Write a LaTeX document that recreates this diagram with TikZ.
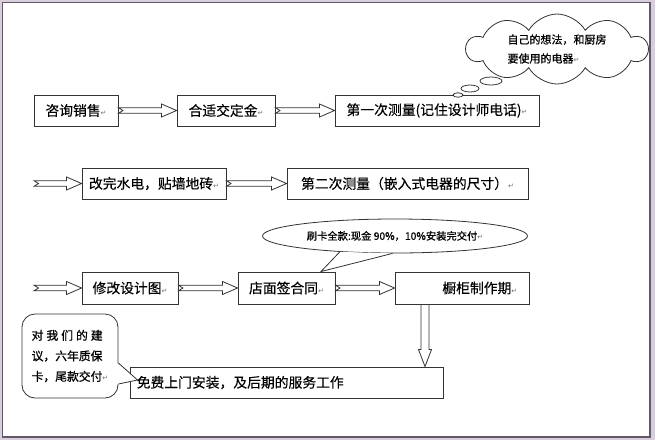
\documentclass[tikz,border=0pt]{standalone}
\usepackage{fontspec}
\setmainfont{Noto Sans CJK SC}[FakeBold=0.3]
\newfontfamily\boldish{Noto Sans CJK SC}[FakeBold=0.9]
\newfontfamily\symfont{DejaVu Sans}
\usetikzlibrary{shapes.symbols,shapes.callouts,shapes.geometric,calc}
\definecolor{framebg}{RGB}{214,206,218}
\definecolor{frameline}{RGB}{100,88,106}
\newcommand\retmark{{\symfont\fontsize{7}{7}\selectfont\color{black!55}↵}}
\tikzset{
  box/.style={draw=black!80, line width=0.9pt, fill=white, minimum height=31pt, inner sep=0pt, font=\fontsize{13.8}{16}\selectfont},
  barrow/.style={draw=black!80, line width=0.8pt, fill=white, line join=miter},
  bubble/.style={draw=black!80, line width=0.8pt, fill=white},
}
\newcommand\harrow[2]{\draw[barrow] let \p1=(#1), \p2=(#2) in
  (\x1,{\y1+2.8pt}) -- ({\x2-15pt},{\y1+2.8pt}) -- ({\x2-15pt},{\y1+6.5pt}) -- (\x2,\y1)
  -- ({\x2-15pt},{\y1-6.5pt}) -- ({\x2-15pt},{\y1-2.8pt}) -- (\x1,{\y1-2.8pt}) -- ({\x1+4.5pt},\y1) -- cycle;}
\newcommand\varrow[2]{\draw[barrow] let \p1=(#1), \p2=(#2) in
  ({\x1-4pt},\y1) -- ({\x1-4pt},{\y2+17pt}) -- ({\x1-6.5pt},{\y2+17pt}) -- (\x1,\y2)
  -- ({\x1+6.5pt},{\y2+17pt}) -- ({\x1+4pt},{\y2+17pt}) -- ({\x1+4pt},\y1) -- cycle;}
\begin{document}
\begin{tikzpicture}[x=1pt,y=-1pt]
\useasboundingbox (0,0) rectangle (655,440);
\fill[framebg] (0,0) rectangle (655,440);
\draw[frameline, line width=1.5pt, fill=white] (2.5,2.5) rectangle (650,437);

% row 1
\node[box, minimum width=84pt] (A) at (76,110.5) {咨询销售\retmark};
\node[box, minimum width=98pt] (B) at (226,110.5) {合适交定金\retmark};
\node[box, minimum width=204pt] (C) at (437,110.5) {第一次测量(记住设计师电话)\retmark};
\harrow{A.east}{B.west}
\harrow{B.east}{C.west}

% cloud
\node[bubble, cloud, cloud puffs=10, cloud puff arc=120, cloud ignores aspect,
      minimum width=181pt, minimum height=70pt, inner sep=0pt, align=left,
      font=\boldish\fontsize{11}{19}\selectfont] (K) at (557,49) {自己的想法，和厨房\\要使用的电器\retmark};
\draw[bubble] (491,81) ellipse [x radius=11pt, y radius=4pt];
\draw[bubble] (470,88.5) ellipse [x radius=9pt, y radius=3.5pt];
\draw[bubble] (458,95) ellipse [x radius=5pt, y radius=2.2pt];

% row 2
\coordinate (s2) at (34,183.5);
\node[box, minimum width=144pt] (D) at (154,183.5) {改完水电，贴墙地砖\retmark};
\node[box, minimum width=241pt] (E) at (407.5,183.5) {第二次测量（嵌入式电器的尺寸）\retmark};
\harrow{s2}{D.west}
\harrow{D.east}{E.west}

% row 3
\coordinate (s3) at (34,288);
\node[box, minimum width=96pt, minimum height=32pt] (F) at (130,288) {修改设计图\retmark};
\node[box, minimum width=97pt, minimum height=32pt] (G) at (286.5,288) {店面签合同\retmark};
\node[box, minimum width=134pt, minimum height=32pt] (H) at (462,288) {};
\node[anchor=east, inner sep=0pt, font=\fontsize{13.8}{16}\selectfont] (Ht) at ([xshift=-12pt]H.east) {橱柜制作期\retmark};
\harrow{s3}{F.west}
\harrow{F.east}{G.west}
\harrow{G.east}{H.west}

% ellipse callout
\coordinate (tipG) at ([xshift=34.5pt]G.north);
\node[bubble, ellipse, minimum width=265pt, minimum height=34pt, inner sep=0pt,
      font=\boldish\fontsize{10.3}{12}\selectfont] (L) at (395,236) {刷卡全款:现金 90\%，10\%安装完交付\retmark};
\fill[white] (L.196) -- (tipG) -- (L.262) -- cycle;
\draw[black!80, line width=0.8pt] (L.196) -- (tipG) -- (L.262);

% bottom
\node[box, minimum width=313pt] (I) at (286.5,382.5) {};
\node[anchor=west, inner sep=0pt, font=\fontsize{13.8}{16}\selectfont] (It) at ([xshift=7pt]I.west) {免费上门安装，及后期的服务工作};
\coordinate (vtop) at ([xshift=-37pt]H.south);
\coordinate (vbot) at (vtop |- I.north);
\varrow{vtop}{vbot}

% rounded callout
\node[bubble, rounded corners=13pt, minimum width=96pt, minimum height=84pt, inner sep=0pt,
      align=left, font=\boldish\fontsize{11.8}{20.5}\selectfont] (R) at (70,356)
  {\makebox[71pt][s]{对\hfill 我\hfill 们\hfill 的\hfill 建}\\议，六年质保\\卡，尾款交付\retmark};
\coordinate (tipR) at ([xshift=8pt,yshift=2.5pt]I.west);
\coordinate (b1) at ([yshift=-7pt]R.east);
\coordinate (b2) at ([yshift=-28pt]R.east);
\fill[white] ([xshift=-1.2pt]b1) -- (tipR) -- ([xshift=-1.2pt]b2) -- cycle;
\draw[black!80, line width=0.8pt] (b1) -- (tipR) -- (b2);
\end{tikzpicture}
\end{document}
